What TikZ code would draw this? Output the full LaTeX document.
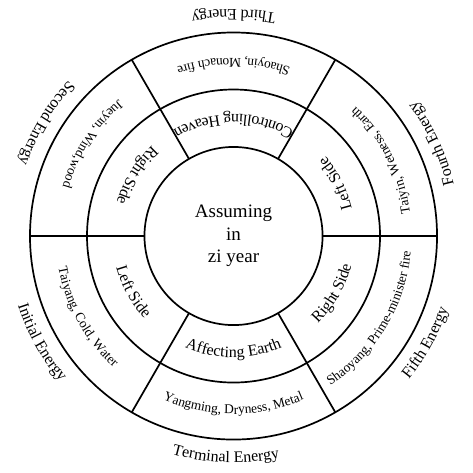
\documentclass[tikz,border=0pt]{standalone}
\usepackage{fontspec}
\setmainfont{Liberation Serif}
\usetikzlibrary{decorations.text}

% curved label: mid angle, baseline radius, font size, text
\newcommand{\arclabel}[4]{%
  \pgfmathsetmacro{\angA}{#1-30}\pgfmathsetmacro{\angB}{#1+30}%
  \path[decorate,decoration={text along path,text align=center,
      text={|\fontsize{#3}{#3}\selectfont|#4}}]
    (\angA:#2) arc[start angle=\angA,end angle=\angB,radius=#2];}

\begin{document}
\begin{tikzpicture}[ring/.style={line width=0.85pt},
          core/.style={align=center,font=\fontsize{9.5}{11.3}\selectfont}]
  \useasboundingbox (-4.104,-4.148) rectangle (4.209,4.148);
  % rings and spokes
  \draw[ring] (0,0) circle[radius=1.565];
  \draw[ring] (0,0) circle[radius=2.575];
  \draw[ring] (0,0) circle[radius=3.577];
  \foreach \a in {0,60,...,300}
    \draw[ring] (\a:1.565) -- (\a:3.577);
  \node[core] (year) at (0,0) {Assuming\\in\\zi year};
  % inner ring
  \arclabel{90}{2.135}{8}{Controlling Heaven}
  \arclabel{148}{2.135}{8}{Right Side}
  \arclabel{209}{2.135}{8}{Left Side}
  \arclabel{270}{2.135}{8}{Affecting Earth}
  \arclabel{330}{2.135}{8}{Right Side}
  \arclabel{27}{2.135}{8}{Left Side}
  % outer ring
  \arclabel{90}{3.128}{6.7}{Shaoyin, Monach fire}
  \arclabel{147}{3.128}{6.7}{Jueyin, Wind,wood}
  \arclabel{209}{3.128}{6.7}{Taiyang, Cold, Water}
  \arclabel{270}{3.128}{6.7}{Yangming, Dryness, Metal}
  \arclabel{329}{3.128}{6.7}{Shaoyang, Prime-minister fire}
  \arclabel{27}{3.128}{6.7}{Taiyin, Wetness, Earth}
  % energies
  \arclabel{90}{3.98}{8}{Third Energy}
  \arclabel{149}{3.98}{8}{Second Energy}
  \arclabel{209}{3.98}{8}{Initial Energy}
  \arclabel{268}{3.98}{8}{Terminal Energy}
  \arclabel{331}{3.98}{8}{Fifth Energy}
  \arclabel{25}{3.98}{8}{Fourth Energy}
\end{tikzpicture}
\end{document}
